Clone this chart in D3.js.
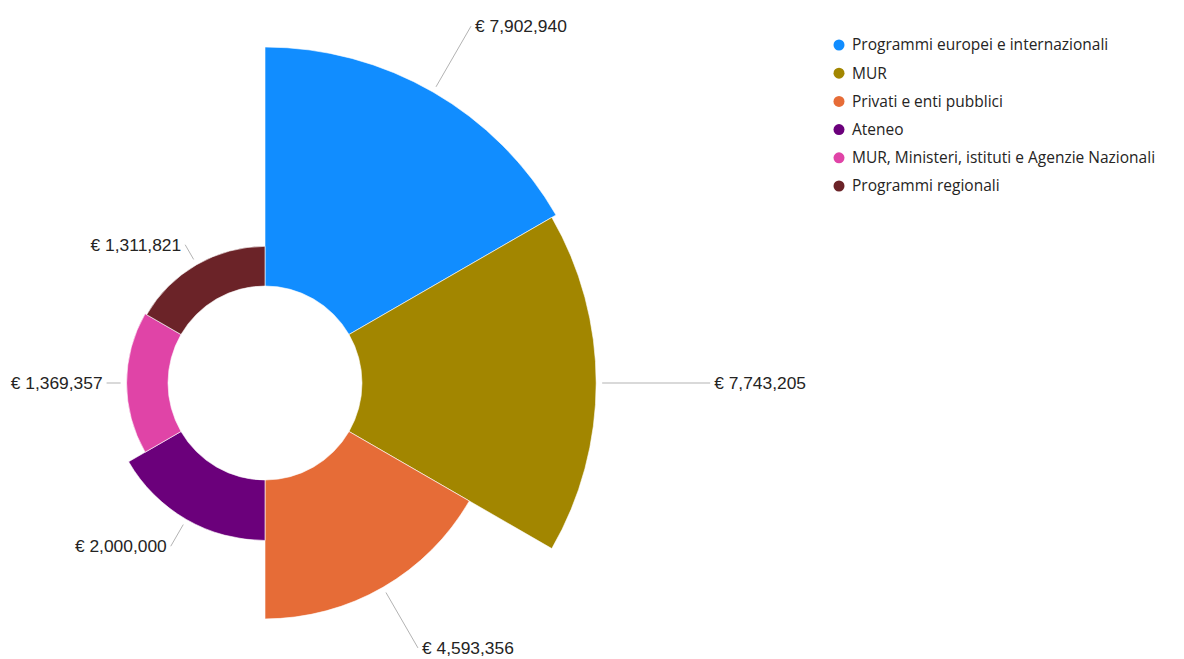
<!DOCTYPE html>
<html>
<head>
<meta charset="utf-8">
<script src="https://cdn.jsdelivr.net/npm/d3@7"></script>
<style>
  body { margin: 0; background: #fff; }
  svg { display: block; }
</style>
</head>
<body>
<svg id="chart" width="1184" height="659"></svg>
<script>
// Data
var categories = ["Programmi europei e internazionali", "MUR", "Privati e enti pubblici",
                  "Ateneo", "MUR, Ministeri, istituti e Agenzie Nazionali", "Programmi regionali"];
var values = [7902940, 7743205, 4593356, 2000000, 1369357, 1311821];
var colors = ["#118DFF", "#A28600", "#E66C37", "#6B007B", "#E044A7", "#6B2328"];

// Layout
var width = 1184, height = 659;
var cx = 265, cy = 383;
var innerR = 97, outerR = 336;
var leaderLen = [70, 108, 64, 25, 14, 17]; // length of each label's leader line

var svg = d3.select('#chart');
var g = svg.append('g').attr('transform', 'translate(' + cx + ',' + cy + ')');

var rScale = d3.scaleLinear().domain([0, d3.max(values)]).range([innerR, outerR]);
var angle = d3.scaleBand().domain(d3.range(values.length)).range([0, 2 * Math.PI]).padding(0);

var arc = d3.arc()
    .innerRadius(innerR)
    .outerRadius(d => rScale(d.value))
    .startAngle(d => angle(d.i))
    .endAngle(d => angle(d.i) + angle.bandwidth());

var slices = values.map((v, i) => ({i: i, value: v, name: categories[i]}));

g.selectAll('path.slice')
  .data(slices)
  .enter()
  .append('path')
  .attr('class', 'slice')
  .attr('d', arc)
  .style('fill', d => colors[d.i])
  .style('stroke', '#fff')
  .style('stroke-width', 0.6);

// Labels with leader lines
var fmt = d3.format(',');
slices.forEach(function(d) {
  var a = angle(d.i) + angle.bandwidth() / 2;
  var sx = Math.sin(a), sy = -Math.cos(a);
  var r0 = rScale(d.value) + 6;
  var r1 = rScale(d.value) + 6 + leaderLen[d.i];
  g.append('line')
    .attr('x1', r0 * sx).attr('y1', r0 * sy)
    .attr('x2', r1 * sx).attr('y2', r1 * sy)
    .style('stroke', '#b3b3b3')
    .style('stroke-width', 1);
  var right = sx >= 0;
  g.append('text')
    .attr('x', r1 * sx + (right ? 4 : -4))
    .attr('y', r1 * sy)
    .attr('dy', '0.35em')
    .attr('text-anchor', right ? 'start' : 'end')
    .style('font-family', '"Liberation Sans", Arial, sans-serif')
    .style('font-size', '17.4px')
    .style('fill', '#252423')
    .text('€ ' + fmt(d.value));
});

// Legend
var legend = svg.append('g').attr('transform', 'translate(839,45)');
var rows = legend.selectAll('g')
  .data(categories)
  .enter()
  .append('g')
  .attr('transform', (d, i) => 'translate(0,' + (i * 28.2) + ')');
rows.append('circle')
  .attr('r', 5.5)
  .style('fill', (d, i) => colors[i]);
rows.append('text')
  .attr('x', 13)
  .attr('dy', '0.35em')
  .style('font-family', '"Open Sans", "Noto Sans", sans-serif')
  .style('font-size', '15.5px')
  .style('fill', '#252423')
  .text(d => d);
</script>
</body>
</html>
